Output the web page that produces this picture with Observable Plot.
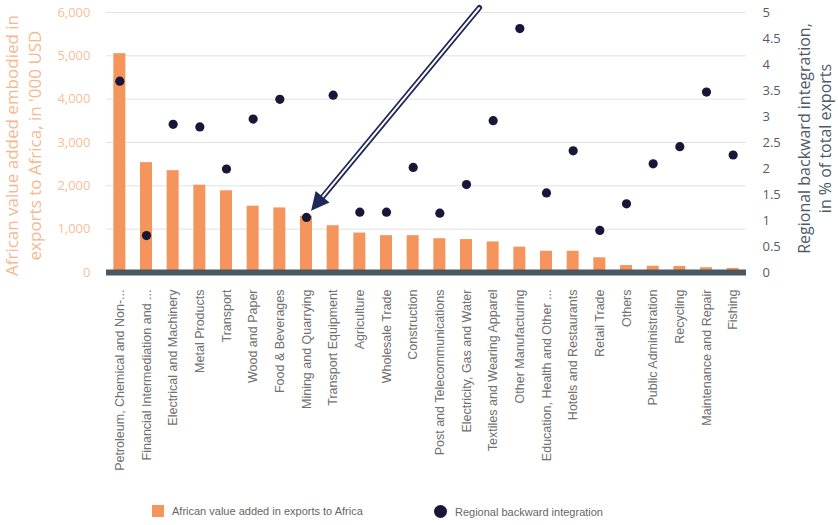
<!DOCTYPE html>
<html>
<head>
<meta charset="utf-8">
<script src="https://cdn.jsdelivr.net/npm/d3@7"></script>
<script src="https://cdn.jsdelivr.net/npm/@observablehq/plot@0.6"></script>
<style>
  html, body { margin: 0; padding: 0; background: #fff; }
  #chart { position: relative; width: 838px; }
  .legend { position: relative; height: 30px; width: 838px;
    font: 11px "Liberation Sans", sans-serif; color: #666; }
  .legend .item { position: absolute; top: 10px; display: flex; align-items: center; gap: 8px; }
  .legend .sw { width: 12px; height: 12px; background: #f5955b; }
  .legend .dot { width: 13px; height: 13px; border-radius: 50%; background: #17173a; }
</style>
</head>
<body>
<div id="chart"></div>
<script>
// Sectors, sorted by African value added embodied in exports to Africa
const sectors = [
  "Petroleum, Chemical and Non-...",
  "Financial Intermediation and ...",
  "Electrical and Machinery",
  "Metal Products",
  "Transport",
  "Wood and Paper",
  "Food & Beverages",
  "Mining and Quarrying",
  "Transport Equipment",
  "Agriculture",
  "Wholesale Trade",
  "Construction",
  "Post and Telecommunications",
  "Electricity, Gas and Water",
  "Textiles and Wearing Apparel",
  "Other Manufacturing",
  "Education, Health and Other ...",
  "Hotels and Restaurants",
  "Retail Trade",
  "Others",
  "Public Administration",
  "Recycling",
  "Maintenance and Repair",
  "Fishing"
];

// African value added in exports to Africa, '000 USD (left axis)
const valueAdded = [
  5050, 2535, 2350, 2015, 1885, 1530, 1490, 1300, 1080, 910, 850, 850,
  780, 760, 705, 585, 490, 490, 340, 160, 145, 140, 110, 95
];

// Regional backward integration, % of total exports (right axis)
const backward = [
  3.68, 0.71, 2.85, 2.80, 1.99, 2.95, 3.33, 1.06, 3.41, 1.16, 1.16, 2.02,
  1.14, 1.69, 2.92, 4.69, 1.53, 2.34, 0.81, 1.32, 2.09, 2.42, 3.47, 2.26
];

const leftTicks = [0, 1000, 2000, 3000, 4000, 5000, 6000];
const rightTicks = [0, 0.5, 1, 1.5, 2, 2.5, 3, 3.5, 4, 4.5, 5];

const leftTitle = "African value added embodied in\nexports to Africa, in '000 USD";
const rightTitle = "Regional backward integration,\nin % of total exports";
const legendLabels = ["African value added in exports to Africa", "Regional backward integration"];

// Arrow annotation: points at the mining sector's backward integration dot
const arrowTarget = "Mining and Quarrying";
const arrowTail = { between: ["Electricity, Gas and Water", "Textiles and Wearing Apparel"], value: 6100 };

// The right axis (0–5 %) shares the left axis (0–6,000) gridlines
const ratio = 6000 / 5;
// Bars take this share of each sector's slot
const barShare = 0.45;

// Sectors sit at integer slots 0..n-1 on a linear x scale
const rows = sectors.map((s, i) => ({ i, sector: s, va: valueAdded[i], bi: backward[i] }));
const slot = name => sectors.indexOf(name);

const tickFont = "Open Sans, sans-serif";

const plot = Plot.plot({
  width: 838,
  height: 495,
  marginTop: 12,
  marginBottom: 223,
  marginLeft: 106,
  marginRight: 92,
  style: { fontFamily: tickFont, background: "#fff" },
  x: { type: "linear", domain: [-0.5, sectors.length - 0.5], label: null },
  y: { domain: [0, 6000], label: null },
  marks: [
    Plot.gridY(leftTicks.filter(d => d > 0), { stroke: "#e2e2e2", strokeOpacity: 1, strokeWidth: 1 }),
    Plot.rectY(rows, {
      x1: d => d.i - barShare / 2, x2: d => d.i + barShare / 2, y1: 0, y2: "va", fill: "#f5955b"
    }),
    Plot.ruleY([0], { stroke: "#4b5861", strokeWidth: 6 }),
    Plot.dot(rows, { x: "i", y: d => d.bi * ratio, r: 4.6, fill: "#17173a", stroke: "none" }),
    // left axis
    Plot.axisY(leftTicks, {
      anchor: "left", tickSize: 0, tickPadding: 16, label: null,
      tickFormat: d => d3.format(",")(d), fill: "#f6bf98", fontSize: 13
    }),
    // right axis
    Plot.axisY(rightTicks, {
      anchor: "right", y: d => d * ratio, tickSize: 0, tickPadding: 16, label: null,
      tickFormat: d => String(d), fill: "#555c66", fontSize: 13
    }),
    // category axis
    Plot.axisX(d3.range(sectors.length), {
      tickSize: 0, tickPadding: 17, tickRotate: -90, label: null, textAnchor: "end",
      tickFormat: i => sectors[i],
      fill: "#707070", fontSize: 12.5, fontFamily: "Liberation Sans, sans-serif"
    }),
    // axis titles
    Plot.text([leftTitle], {
      frameAnchor: "left", rotate: -90, dx: -84, dy: 3, text: d => d, textAnchor: "middle",
      lineAnchor: "middle", lineHeight: 1.32, fontSize: 17, fill: "#f5b98f"
    }),
    Plot.text([rightTitle], {
      frameAnchor: "right", rotate: -90, dx: 67, dy: -4, text: d => d, textAnchor: "middle",
      lineAnchor: "middle", lineHeight: 1.35, fontSize: 16, fill: "#4d5a68"
    })
  ]
});

// Draw the double-line arrow from the plot's own scales
(function drawArrow() {
  const xs = plot.scale("x");
  const ys = plot.scale("y");
  const row = rows[slot(arrowTarget)];
  const dot = [xs.apply(row.i), ys.apply(row.bi * ratio)];
  const tailSlot = (slot(arrowTail.between[0]) + slot(arrowTail.between[1])) / 2;
  const tail = [xs.apply(tailSlot), ys.apply(arrowTail.value)];
  const dx = dot[0] - tail[0], dy = dot[1] - tail[1];
  const len = Math.hypot(dx, dy);
  const u = [dx / len, dy / len];
  const p = [-u[1], u[0]];
  const tip = [dot[0] - u[0] * 8, dot[1] - u[1] * 8];
  const headLen = 18, headHalf = 9;
  const base = [tip[0] - u[0] * headLen, tip[1] - u[1] * headLen];
  const shaftEnd = [tip[0] - u[0] * (headLen - 2), tip[1] - u[1] * (headLen - 2)];
  const g = d3.select(plot).append("g").attr("class", "arrow");
  g.append("line")
    .attr("x1", tail[0]).attr("y1", tail[1]).attr("x2", shaftEnd[0]).attr("y2", shaftEnd[1])
    .attr("stroke", "#1f2858").attr("stroke-width", 5.5).attr("stroke-linecap", "round");
  g.append("line")
    .attr("x1", tail[0] + u[0] * 0.5).attr("y1", tail[1] + u[1] * 0.5)
    .attr("x2", shaftEnd[0]).attr("y2", shaftEnd[1])
    .attr("stroke", "#fff").attr("stroke-width", 2).attr("stroke-linecap", "round");
  g.append("path")
    .attr("d", `M${tip[0]},${tip[1]}L${base[0] + p[0] * headHalf},${base[1] + p[1] * headHalf}L${base[0] - p[0] * headHalf},${base[1] - p[1] * headHalf}Z`)
    .attr("fill", "#1f2858");
})();

document.getElementById("chart").appendChild(plot);

// Legend below the chart
const legend = document.createElement("div");
legend.className = "legend";
legend.innerHTML = `
  <div class="item" style="left:152px"><span class="sw"></span><span>${legendLabels[0]}</span></div>
  <div class="item" style="left:434px"><span class="dot"></span><span>${legendLabels[1]}</span></div>`;
document.getElementById("chart").appendChild(legend);
</script>
</body>
</html>
